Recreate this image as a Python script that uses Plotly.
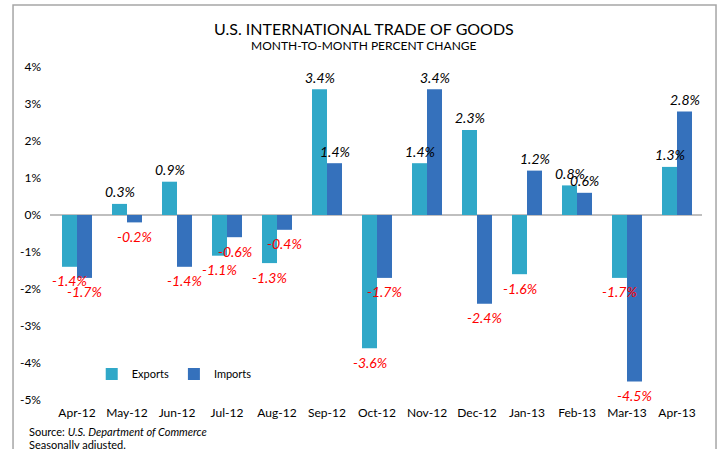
import plotly.graph_objects as go

months = ["Apr-12", "May-12", "Jun-12", "Jul-12", "Aug-12", "Sep-12", "Oct-12",
          "Nov-12", "Dec-12", "Jan-13", "Feb-13", "Mar-13", "Apr-13"]
exports = [-1.4, 0.3, 0.9, -1.1, -1.3, 3.4, -3.6, 1.4, 2.3, -1.6, 0.8, -1.7, 1.3]
imports = [-1.7, -0.2, -1.4, -0.6, -0.4, 1.4, -1.7, 3.4, -2.4, 1.2, 0.6, -4.5, 2.8]
y_ticks = [4, 3, 2, 1, 0, -1, -2, -3, -4, -5]

FONT = "Lato, Carlito, 'Liberation Sans', sans-serif"
EXP_COLOR = "#30A8C8"
IMP_COLOR = "#3571BC"

fig = go.Figure()
fig.add_trace(go.Bar(x=months, y=exports, name="Exports",
                     marker=dict(color=EXP_COLOR, line=dict(width=0))))
fig.add_trace(go.Bar(x=months, y=imports, name="Imports",
                     marker=dict(color=IMP_COLOR, line=dict(width=0))))

# value labels drawn on top of all bars (positioned at each bar's value)
value_labels = []
for series, shift in ((exports, -7.5), (imports, 7.5)):
    for m, v in zip(months, series):
        value_labels.append(dict(
            x=m, y=v, xref="x", yref="y", text=f"{v:.1f}%", showarrow=False,
            xshift=shift, yshift=12 if v >= 0 else -14,
            xanchor="center", yanchor="middle",
            font=dict(family=FONT, size=14, style="italic",
                      color="#FF0000" if v < 0 else "#000000"),
        ))

fig.update_layout(
    width=718, height=449,
    margin=dict(l=50, r=16, t=67, b=49),
    paper_bgcolor="white", plot_bgcolor="white",
    barmode="group", bargap=0.4, bargroupgap=0,
    font=dict(family=FONT, color="#000000"),
    showlegend=True,
    legend=dict(orientation="h", x=0.064, y=0.078, xanchor="left", yanchor="middle",
                font=dict(size=11, family=FONT), bgcolor="rgba(0,0,0,0)",
                itemwidth=30, traceorder="normal"),
    annotations=value_labels + [
        dict(text="U.S. INTERNATIONAL TRADE OF GOODS", xref="paper", yref="paper",
             x=0.481, y=1.117, xanchor="center", yanchor="middle", showarrow=False,
             font=dict(size=16, family=FONT, color="#000000")),
        dict(text="MONTH-TO-MONTH PERCENT CHANGE", xref="paper", yref="paper",
             x=0.481, y=1.066, xanchor="center", yanchor="middle", showarrow=False,
             font=dict(size=12, family=FONT, color="#000000")),
        dict(text="Source: <i>U.S. Department of Commerce</i>", xref="paper", yref="paper",
             x=-0.035, y=-0.096, xanchor="left", yanchor="middle", showarrow=False,
             font=dict(size=11, family=FONT, color="#000000")),
        dict(text="Seasonally adjusted.", xref="paper", yref="paper",
             x=-0.035, y=-0.135, xanchor="left", yanchor="middle", showarrow=False,
             font=dict(size=11, family=FONT, color="#000000")),
    ],
    shapes=[
        dict(type="rect", xref="paper", yref="paper",
             x0=-0.0567, x1=1.0215, y0=-0.2, y1=1.186,
             line=dict(color="#A6A6A6", width=1.5), fillcolor="rgba(0,0,0,0)", layer="below"),
    ],
)
fig.update_xaxes(showgrid=False, showline=False, ticks="", ticklabelstandoff=4,
                 tickfont=dict(size=12, family=FONT, color="#000000"))
fig.update_yaxes(range=[-5, 4], tickvals=y_ticks, ticktext=[f"{t}%" for t in y_ticks],
                 showgrid=False, showline=False, ticks="",
                 zeroline=True, zerolinecolor="#BFBFBF", zerolinewidth=1.5,
                 ticklabelstandoff=8,
                 tickfont=dict(size=12, family=FONT, color="#000000"))

fig.write_html("out.html", config={"displayModeBar": False},
               post_script="document.body.style.margin='0';")
